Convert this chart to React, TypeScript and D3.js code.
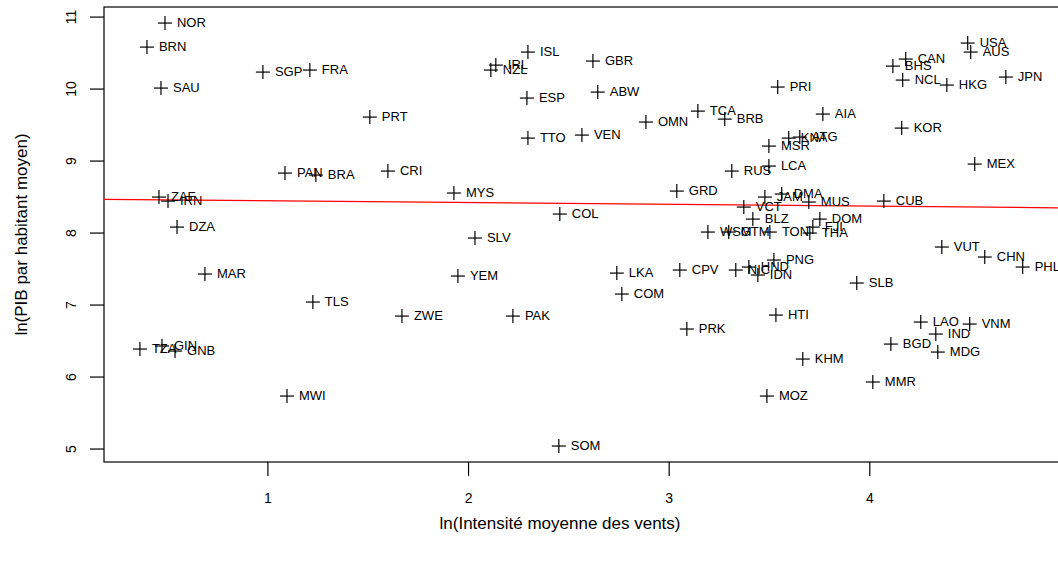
import React from "react";
import * as d3 from "d3";

const codes = ["NOR","BRN","SGP","FRA","SAU","PRT","NZL","IRL","ISL","ESP","TTO","VEN","GBR","ABW","OMN","TCA","BRB","PRI","AIA","MSR","KNA","ATG","USA","AUS","CAN","BHS","NCL","HKG","JPN","KOR","MEX","PAN","BRA","ZAF","IRN","DZA","MAR","TLS","CRI","MYS","COL","SLV","YEM","RUS","LCA","GRD","JAM","DMA","MUS","VCT","BLZ","DOM","FJI","THA","WSM","GTM","TON","LKA","COM","CPV","NIC","HND","IDN","PNG","SLB","CUB","VUT","CHN","PHL","TZA","GIN","GNB","MWI","ZWE","PAK","SOM","PRK","HTI","KHM","MOZ","MMR","LAO","VNM","IND","BGD","MDG"];

const lnWind = [0.487,0.397,0.975,1.209,0.467,1.508,2.111,2.136,2.296,2.291,2.296,2.565,2.62,2.644,2.884,3.143,3.277,3.541,3.766,3.497,3.596,3.651,4.488,4.503,4.179,4.115,4.164,4.384,4.678,4.159,4.523,1.085,1.239,0.457,0.502,0.547,0.686,1.224,1.598,1.927,2.455,2.032,1.947,3.312,3.497,3.038,3.477,3.561,3.696,3.372,3.417,3.751,3.716,3.701,3.193,3.297,3.502,2.739,2.764,3.053,3.332,3.397,3.442,3.522,3.935,4.07,4.359,4.573,4.762,0.362,0.472,0.537,1.095,1.668,2.221,2.45,3.088,3.532,3.666,3.487,4.015,4.254,4.498,4.329,4.105,4.339];

const lnGdp = [10.917,10.583,10.236,10.264,10.014,9.611,10.264,10.333,10.514,9.875,9.319,9.361,10.389,9.958,9.542,9.694,9.583,10.028,9.653,9.208,9.319,9.333,10.639,10.514,10.417,10.319,10.125,10.056,10.167,9.458,8.958,8.833,8.806,8.5,8.444,8.083,7.431,7.042,8.861,8.556,8.264,7.931,7.403,8.861,8.931,8.583,8.5,8.542,8.431,8.361,8.194,8.194,8.083,8.0,8.014,8.014,8.014,7.444,7.153,7.486,7.486,7.528,7.417,7.625,7.306,8.444,7.806,7.667,7.528,6.389,6.431,6.361,5.736,6.847,6.847,5.042,6.667,6.861,6.25,5.736,5.931,6.764,6.736,6.597,6.458,6.347];

const xTicks = [1, 2, 3, 4];
const yTicks = [5, 6, 7, 8, 9, 10, 11];
const fitIntercept = 8.4725;
const fitSlope = -0.0246;

const xTitle = "ln(Intensité moyenne des vents)";
const yTitle = "ln(PIB par habitant moyen)";

export default function App() {
  const W = 1058, H = 563;
  const x = d3.scaleLinear().domain([0.183, 4.953]).range([104, 1061]);
  const y = d3.scaleLinear().domain([4.82, 11.14]).range([462, 7]);
  const font = "'Liberation Sans', Arial, Helvetica, sans-serif";
  const [x0, x1] = x.domain();
  const fitLine = d3.line<number>().x((d) => x(d)).y((d) => y(fitIntercept + fitSlope * d));
  const arm = 7;
  return (
    <svg width={W} height={H} style={{ position: "absolute", left: 0, top: 0, background: "#fff" }}>
      <rect x={0} y={0} width={W} height={H} fill="#fff" />
      <g fontFamily={font} fill="#000">
        <rect x={x(x0)} y={y(11.14)} width={x(x1) - x(x0)} height={y(4.82) - y(11.14)} fill="none" stroke="#000" strokeWidth={1.2} />
        {yTicks.map((t) => (
          <g key={"y" + t}>
            <line x1={90} x2={104} y1={y(t)} y2={y(t)} stroke="#000" strokeWidth={1.2} />
            <text x={0} y={0} transform={`translate(76,${y(t)}) rotate(-90)`} textAnchor="middle" fontSize={14}>{t}</text>
          </g>
        ))}
        {xTicks.map((t) => (
          <g key={"x" + t}>
            <line x1={x(t)} x2={x(t)} y1={462} y2={476} stroke="#000" strokeWidth={1.2} />
            <text x={x(t)} y={503} textAnchor="middle" fontSize={14}>{t}</text>
          </g>
        ))}
        <text x={0} y={0} transform={`translate(27,${(7 + 462) / 2}) rotate(-90)`} textAnchor="middle" fontSize={17}>{yTitle}</text>
        <text x={560} y={529} textAnchor="middle" fontSize={17}>{xTitle}</text>
        <path d={fitLine([x0, x1]) || ""} stroke="#ff0000" strokeWidth={1.2} fill="none" />
        {codes.map((c, i) => {
          const px = x(lnWind[i]);
          const py = y(lnGdp[i]);
          return (
            <g key={c}>
              <line x1={px - arm} x2={px + arm} y1={py} y2={py} stroke="#000" strokeWidth={1.2} />
              <line x1={px} x2={px} y1={py - arm} y2={py + arm} stroke="#000" strokeWidth={1.2} />
              <text x={px + 12} y={py + 4} fontSize={13}>{c}</text>
            </g>
          );
        })}
      </g>
    </svg>
  );
}
